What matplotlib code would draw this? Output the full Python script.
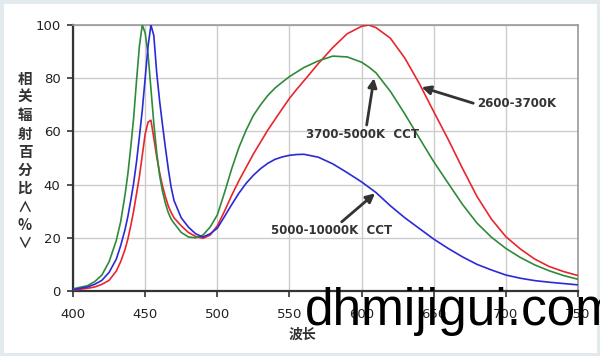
import matplotlib
matplotlib.use("Agg")
import matplotlib.pyplot as plt
from matplotlib.patches import Rectangle

# wavelength (nm) and relative radiant power (%)
wl = [400, 410, 415, 420, 425, 430, 433,
      436, 438, 440, 442, 444, 446, 448, 450, 452, 454, 456, 458, 460, 462,
      464, 466, 468, 470,
      475, 480, 485, 490, 495,
      500, 505, 510, 515, 520, 525, 530, 535, 540, 545, 550, 555, 560,
      570, 580, 590, 600, 605, 610,
      620, 630, 640, 650, 660, 670, 680, 690, 700, 710, 720, 730, 740, 750]

warm = [0.3, 1, 1.5, 2.5, 4, 7.5, 11,
        15.5, 19.5, 24.5, 30, 36.5, 43, 51, 59, 63.5, 64.2, 57.5, 50.5, 44.5, 39.5,
        35.5, 32, 29.5, 27.5,
        24.5, 22, 20.5, 19.8, 21,
        24.5, 30, 36, 41.5, 46.5, 51.5, 56, 60.5, 64.5, 68.5, 72.4, 75.8, 79,
        85.5, 91.5, 96.7, 99.5, 100, 99,
        95, 87.5, 78, 67.4, 57, 46, 35.5, 27, 20.4, 15.8, 12, 9.2, 7.3, 5.8]

neutral = [0.8, 2, 3.5, 6, 11, 19, 26,
           36, 44, 54, 65, 79, 92, 100, 97, 89, 76, 63, 52, 43.5, 37.5,
           33, 29.5, 27, 25.5,
           22, 20.3, 20, 21, 24,
           28.6, 37, 46, 54, 60.5, 66, 70, 73.5, 76.3, 78.5, 80.6, 82.3, 84,
           86.5, 88.3, 88, 86, 84.2, 82,
           75, 66.5, 57.5, 48.6, 40.5, 32.5, 25.5, 20.2, 16, 12.6, 9.8, 7.6, 5.8, 4.4]

cool = [0.5, 1.5, 2.5, 4, 7, 12, 17,
        23, 28, 34, 40.5, 48.5, 58, 68, 80, 92, 100, 96, 82, 71.5, 62.5,
        54, 46, 39, 34,
        27.5, 24, 21.5, 20.3, 21.5,
        23.6, 28, 32.5, 36.8, 40.5, 43.5, 46, 48, 49.5, 50.4, 51, 51.3, 51.4,
        50.3, 47.8, 44.5, 41, 39, 37,
        32, 27.5, 23.5, 19.5, 16, 12.8, 10, 7.9, 6, 4.8, 3.9, 3.3, 2.8, 2.3]

xticks = [400, 450, 500, 550, 600, 650, 700, 750]
yticks = [0, 20, 40, 60, 80, 100]
ylabel_chars = ["相", "关", "辐", "射", "百", "分", "比", "∧", "%", "∨"]

cjk = ["Noto Sans CJK SC", "DejaVu Sans"]

fig = plt.figure(figsize=(6, 3.56), dpi=100)
fig.patch.set_facecolor("white")
fig.patches.append(Rectangle((0, 0), 1, 1, transform=fig.transFigure,
                             facecolor="none", edgecolor="#e3eaee", lw=5))

ax = fig.add_axes([0.1217, 0.1826, 0.8417, 0.7472])
ax.plot(wl, warm, color="#e8262c", lw=1.2, zorder=3)
ax.plot(wl, neutral, color="#2f8a3a", lw=1.2, zorder=3)
ax.plot(wl, cool, color="#2a2ad6", lw=1.2, zorder=3)

ax.set_xlim(400, 750)
ax.set_ylim(0, 100)
ax.set_xticks(xticks)
ax.set_yticks(yticks)
ax.grid(color="#cccccc", lw=1)
ax.set_axisbelow(True)
for s in ["left", "bottom"]:
    ax.spines[s].set_color("#333333")
    ax.spines[s].set_linewidth(1.6)
for s in ["top", "right"]:
    ax.spines[s].set_color("#999999")
    ax.spines[s].set_linewidth(1.2)
ax.tick_params(axis="both", colors="#333333", labelsize=9.5, length=4,
               width=1.2, labelcolor="#222222")
ax.tick_params(axis="x", pad=8)
ax.tick_params(axis="y", pad=5)

# callouts
arrow = dict(arrowstyle="-|>", color="#333333", lw=2, mutation_scale=13,
             shrinkA=0, shrinkB=0)
ax.annotate("", xy=(641.6, 76.6), xytext=(677.4, 70.6), arrowprops=arrow)
ax.annotate("", xy=(608.6, 80), xytext=(603.5, 62.4), arrowprops=arrow)
ax.annotate("", xy=(609.3, 36.7), xytext=(586.2, 26), arrowprops=arrow)
ax.text(680, 70.3, "2600-3700K", fontsize=8.5, fontweight="bold",
        color="#333333", ha="left", va="center")
ax.text(600.6, 59, "3700-5000K  CCT", fontsize=8.5, fontweight="bold",
        color="#333333", ha="center", va="center")
ax.text(579.5, 22.9, "5000-10000K  CCT", fontsize=8.5, fontweight="bold",
        color="#333333", ha="center", va="center")

# stacked vertical y label
for i, ch in enumerate(ylabel_chars):
    fig.text(25 / 600, 1 - (79 + i * 18.2) / 356, ch, family=cjk,
             fontsize=10.5, fontweight="bold", color="#333333",
             ha="center", va="center")

fig.text(302 / 600, 1 - 335 / 356, "波长", family=cjk, fontsize=10,
         fontweight="bold", color="#333333", ha="center", va="center")

# watermark
fig.text(305 / 600, 1 - 325 / 356, "dhmijigui.com", family="Liberation Sans",
         fontsize=37, color="black", ha="left", va="baseline", zorder=10)

fig.savefig("out.png", dpi=100)
